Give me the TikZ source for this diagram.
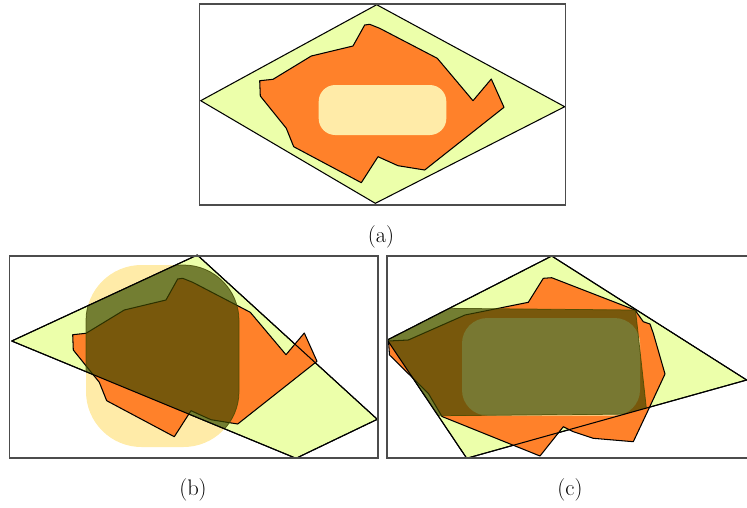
\documentclass[tikz,border=0pt]{standalone}
\usepackage{tikz}
\usetikzlibrary{positioning}
\definecolor{limegreen}{RGB}{236,255,170}
\definecolor{setorange}{RGB}{255,129,42}
\definecolor{paleyellow}{RGB}{255,235,168}
\definecolor{darkolive}{RGB}{64,72,0}
\tikzset{
	framebox/.style={draw=black!70, line width=0.9pt}
}
\tikzset{
	greenset/.style={fill=limegreen, draw=black, line width=0.7pt, line join=round},
	orangeset/.style={fill=setorange, draw=black, line width=0.7pt, line join=round},
	innerbox/.style={fill=paleyellow},
	overlapset/.style={fill=darkolive, fill opacity=0.7, draw=darkolive, draw opacity=0.8, line width=0.5pt},
	edgeline/.style={draw=black, line width=0.7pt, line join=round},
	caption/.style={font=\fontsize{15}{18}\selectfont}
}
% the orange region of panel (a), in pixel units
\newcommand{\blob}{(364.7,25) -- (369.7,24.3) -- (379.7,28.3) -- (437.3,58.3) -- (473,100.7)
  -- (491.3,79) -- (504,107.3) -- (424.7,170) -- (398,165.7) -- (378,156.7) -- (361.3,182.7)
  -- (293.7,146.7) -- (286.3,128.3) -- (260.3,96) -- (259.7,80.7) -- (273,79.3) -- (311.3,56)
  -- (353,46) -- cycle}
\newcommand{\rhomb}{(197.3,255) -- (377.3,419.3) -- (296,458.3) -- (11.7,341) -- cycle}
\newcommand{\rhombc}{(551.7,256) -- (746.7,380) -- (466.7,458.3) -- (387.3,340) -- cycle}

\begin{document}
\begin{tikzpicture}[x=0.6667pt, y=-0.6667pt]
  \useasboundingbox (0,0) rectangle (747,507);

  % (a)
  \filldraw[greenset] (376.7,4.7) -- (564.7,106.7) -- (375.3,203.3) -- (200.7,100.7) -- cycle;
  \filldraw[orangeset] \blob;
  \fill[innerbox, rounded corners=11pt] (318.7,85) rectangle (446.3,135);
  \draw[framebox] (199.5,4) rectangle (565.5,205);
  \node[caption] (lbla) at (381,237) {(a)};

  % (b)
  \fill[innerbox, rounded corners=37pt] (86,265) rectangle (239,447);
  \fill[greenset] \rhomb;
  \begin{scope}[shift={(-187,254)}]
    \filldraw[orangeset] \blob;
  \end{scope}
  \begin{scope}
    \clip \rhomb;
    \filldraw[overlapset, rounded corners=37pt] (86,265) rectangle (239,447);
  \end{scope}
  \draw[edgeline] \rhomb;
  \draw[framebox] (9.5,256) rectangle (378,458);
  \node[caption] (lblb) at (193,490) {(b)};

  % (c)
  \fill[greenset] \rhombc;
  \filldraw[orangeset] (543.3,278.3) -- (551.7,277.7) -- (635,310) -- (643.3,321.7) -- (650,324)
    -- (653.3,333.3) -- (665,374) -- (646.7,413.3) -- (633.3,441.7) -- (593.3,438.3)
    -- (573.3,431.7) -- (563.3,426.7) -- (540,456) -- (442,416.5) -- (428.3,393.3)
    -- (389.5,355) -- (388.5,341) -- (408.3,340) -- (465,315) -- (528.3,302.3) -- cycle;
  \fill[innerbox, rounded corners=17pt] (462,318) rectangle (640,415.5);
  \begin{scope}
    \clip \rhombc;
    \filldraw[overlapset] (380,307.7) -- (635.5,310) -- (647,414) -- (380,416.2) -- cycle;
  \end{scope}
  \draw[edgeline] \rhombc;
  \draw[framebox] (760,256) -- (387,256) -- (387,458) -- (760,458);
  \node[caption] (lblc) at (570,490) {(c)};
\end{tikzpicture}
\end{document}
